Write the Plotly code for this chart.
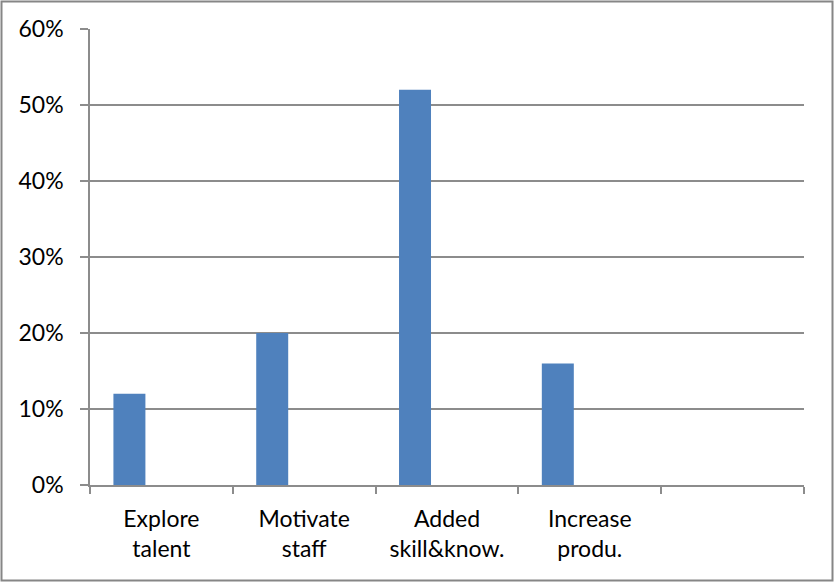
import plotly.graph_objects as go

categories = ["Explore<br>talent", "Motivate<br>staff", "Added<br>skill&know.", "Increase<br>produ.", " "]
series1 = [0.12, 0.20, 0.52, 0.16, None]
series2 = [None, None, None, None, None]
series3 = [None, None, None, None, None]
y_ticks = [0, 0.1, 0.2, 0.3, 0.4, 0.5, 0.6]
y_tick_labels = ["0%", "10%", "20%", "30%", "40%", "50%", "60%"]

grid = "#8c8c8c"
font = dict(family="Lato, 'Liberation Sans', sans-serif", size=23, color="#000000")

fig = go.Figure()
fig.add_trace(go.Bar(x=categories, y=series1, marker=dict(color="#4F81BD", line=dict(width=0)), showlegend=False))
fig.add_trace(go.Bar(x=categories, y=series2, showlegend=False))
fig.add_trace(go.Bar(x=categories, y=series3, showlegend=False))

fig.update_layout(
    width=834, height=582,
    margin=dict(l=90, r=30, t=29, b=97),
    paper_bgcolor="white", plot_bgcolor="white",
    barmode="group", bargap=0.328, bargroupgap=0,
    font=font,
    xaxis=dict(
        type="category", tickson="boundaries", ticks="outside", ticklen=7,
        tickcolor=grid, tickwidth=1.5, showline=True, linecolor=grid, linewidth=1.5,
        showgrid=False, tickfont=font, range=[-0.5, 4.5], ticklabelstandoff=13,
    ),
    yaxis=dict(
        range=[0, 0.6], tickvals=y_ticks, ticktext=y_tick_labels,
        ticks="outside", ticklen=8, tickcolor=grid, tickwidth=1.5,
        showline=True, linecolor=grid, linewidth=1.5,
        showgrid=True, gridcolor=grid, gridwidth=1.5, zeroline=False,
        tickfont=font, ticklabelstandoff=12,
    ),
    shapes=[dict(
        type="rect", xref="paper", yref="paper",
        x0=(1.5 - 90) / 714, x1=(832.5 - 90) / 714,
        y0=(485 - 580.5) / 456, y1=(485 - 1.5) / 456,
        line=dict(color="#868686", width=2), fillcolor="rgba(0,0,0,0)", layer="below",
    )],
)

fig.write_html("out.html")
